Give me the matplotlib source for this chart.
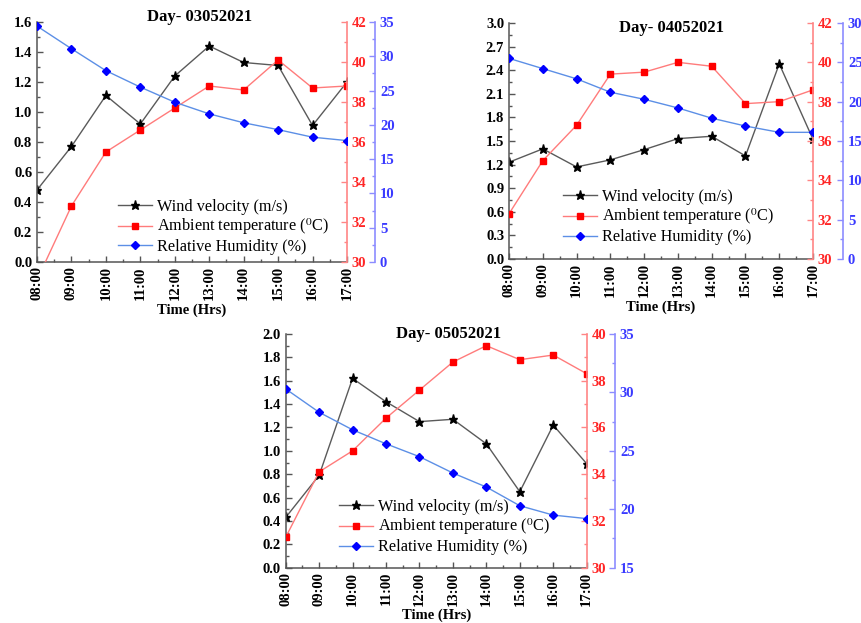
import matplotlib
matplotlib.use('Agg')
import matplotlib.pyplot as plt
from matplotlib.ticker import MultipleLocator, AutoMinorLocator
from matplotlib.lines import Line2D

plt.rcParams['font.family'] = 'serif'
plt.rcParams['font.serif'] = ['Liberation Serif', 'DejaVu Serif']
plt.rcParams['mathtext.fontset'] = 'stix'

# hourly readings, 08:00 - 17:00
hours = ['08:00', '09:00', '10:00', '11:00', '12:00',
         '13:00', '14:00', '15:00', '16:00', '17:00']

wind_0305 = [0.48, 0.77, 1.11, 0.92, 1.24, 1.44, 1.33, 1.31, 0.91, 1.20]
temp_0305 = [29.1, 32.8, 35.5, 36.6, 37.7, 38.8, 38.6, 40.1, 38.7, 38.8]
rh_0305 = [34.4, 31.1, 27.9, 25.5, 23.3, 21.6, 20.3, 19.3, 18.2, 17.7]

wind_0405 = [1.23, 1.40, 1.17, 1.26, 1.39, 1.53, 1.56, 1.31, 2.48, 1.52]
temp_0405 = [32.3, 35.0, 36.8, 39.4, 39.5, 40.0, 39.8, 37.9, 38.0, 38.6]
rh_0405 = [25.5, 24.2, 22.9, 21.2, 20.3, 19.2, 17.9, 16.9, 16.1, 16.1]

wind_0505 = [0.43, 0.79, 1.62, 1.42, 1.25, 1.27, 1.06, 0.65, 1.22, 0.89]
temp_0505 = [31.3, 34.1, 35.0, 36.4, 37.6, 38.8, 39.5, 38.9, 39.1, 38.3]
rh_0505 = [30.3, 28.3, 26.8, 25.6, 24.5, 23.1, 21.9, 20.3, 19.5, 19.2]

WIND_LINE = '#5a5a5a'
RED_LINE = '#ff7b7b'
RED_AXIS = '#ff8585'
RED_TEXT = '#ff2525'
BLUE_LINE = '#5c8fe6'
BLUE_AXIS = '#8c8cff'
BLUE_TEXT = '#3a3aff'
TICK_FS = 10.5

fig = plt.figure(figsize=(8.61, 6.23), dpi=100)


def draw_day(rect, title, wind, temp, rh, wind_max, wind_step, temp_lim,
             rh_lim, title_xy, legend_xy, blue_offset):
    ax = fig.add_axes(rect)
    x = list(range(len(hours)))

    ax.plot(x, wind, color=WIND_LINE, lw=1.0, marker='*', ms=6.5,
            mfc='black', mec='black')
    ax.set_xlim(0, len(hours) - 1)
    ax.set_ylim(0, wind_max)
    ax.yaxis.set_major_locator(MultipleLocator(wind_step))
    ax.yaxis.set_minor_locator(AutoMinorLocator(2))
    ax.yaxis.set_major_formatter(plt.FormatStrFormatter('%.1f'))
    ax.set_xticks(x)
    ax.set_xticklabels(hours, rotation=90, fontweight='bold', fontsize=TICK_FS)
    ax.xaxis.set_minor_locator(MultipleLocator(0.5))
    for lab in ax.get_yticklabels():
        lab.set_fontweight('bold')
        lab.set_fontsize(TICK_FS)
    ax.tick_params(which='both', direction='in', color='#555555', width=1)
    ax.tick_params(which='major', length=4)
    ax.tick_params(which='minor', length=2)
    ax.tick_params(axis='x', pad=3)
    for side in ('top', 'right'):
        ax.spines[side].set_visible(False)
    for side in ('left', 'bottom'):
        ax.spines[side].set_color('#555555')
        ax.spines[side].set_linewidth(1.1)
    ax.set_xlabel('Time (Hrs)', fontweight='bold', fontsize=TICK_FS, labelpad=2)

    # ambient temperature on the first right axis
    ax_t = ax.twinx()
    ax_t.plot(x, temp, color=RED_LINE, lw=1.0, marker='s', ms=4.5,
              mfc='#ff0000', mec='#ff0000')
    ax_t.set_ylim(*temp_lim)
    ax_t.yaxis.set_major_locator(MultipleLocator(2))
    ax_t.yaxis.set_minor_locator(AutoMinorLocator(2))
    ax_t.tick_params(which='both', direction='in', color=RED_AXIS,
                     labelcolor=RED_TEXT, width=1)
    ax_t.tick_params(which='major', length=4)
    ax_t.tick_params(which='minor', length=2)
    for lab in ax_t.get_yticklabels():
        lab.set_fontweight('bold')
        lab.set_fontsize(TICK_FS)
    for side in ('top', 'left', 'bottom'):
        ax_t.spines[side].set_visible(False)
    ax_t.spines['right'].set_color(RED_AXIS)
    ax_t.spines['right'].set_linewidth(1.2)

    # relative humidity on an offset right axis
    ax_h = ax.twinx()
    ax_h.spines['right'].set_position(('outward', blue_offset))
    ax_h.plot(x, rh, color=BLUE_LINE, lw=1.0, marker='D', ms=4,
              mfc='#0000ff', mec='#0000ff')
    ax_h.set_ylim(*rh_lim)
    ax_h.yaxis.set_major_locator(MultipleLocator(5))
    ax_h.yaxis.set_minor_locator(AutoMinorLocator(2))
    ax_h.tick_params(which='both', direction='in', color=BLUE_AXIS,
                     labelcolor=BLUE_TEXT, width=1)
    ax_h.tick_params(which='major', length=4)
    ax_h.tick_params(which='minor', length=2)
    for lab in ax_h.get_yticklabels():
        lab.set_fontweight('bold')
        lab.set_fontsize(TICK_FS)
    for side in ('top', 'left', 'bottom'):
        ax_h.spines[side].set_visible(False)
    ax_h.spines['right'].set_color(BLUE_AXIS)
    ax_h.spines['right'].set_linewidth(1.2)

    ax_h.text(title_xy[0], title_xy[1], title, transform=ax.transAxes,
              ha='center', va='center', fontsize=12, fontweight='bold')

    handles = [
        Line2D([], [], color=WIND_LINE, lw=1.0, marker='*', ms=6.5,
               mfc='black', mec='black'),
        Line2D([], [], color=RED_LINE, lw=1.0, marker='s', ms=4.5,
               mfc='#ff0000', mec='#ff0000'),
        Line2D([], [], color=BLUE_LINE, lw=1.0, marker='D', ms=4,
               mfc='#0000ff', mec='#0000ff'),
    ]
    labels = ['Wind velocity (m/s)',
              r'Ambient temperature ($^{0}$C)',
              'Relative Humidity (%)']
    ax_h.legend(handles, labels, loc='center left', bbox_to_anchor=legend_xy,
                bbox_transform=ax.transAxes, frameon=False, fontsize=11.7,
                borderpad=0, borderaxespad=0, handlelength=2.1,
                handletextpad=0.3, labelspacing=0.12)


draw_day([0.0430, 0.5795, 0.3600, 0.3852], 'Day- 03052021',
         wind_0305, temp_0305, rh_0305, 1.6, 0.2, (30, 42), (0, 35),
         (0.526, 1.02), (0.26, 0.146), 20.2)
draw_day([0.5912, 0.5843, 0.3531, 0.3788], 'Day- 04052021',
         wind_0405, temp_0405, rh_0405, 3.0, 0.3, (30, 42), (0, 30),
         (0.535, 0.979), (0.178, 0.178), 21.6)
draw_day([0.3318, 0.0888, 0.3496, 0.3751], 'Day- 05052021',
         wind_0505, temp_0505, rh_0505, 2.0, 0.2, (30, 40), (15, 35),
         (0.54, 1.0), (0.178, 0.174), 20.4)

fig.savefig('out.png', dpi=100)
